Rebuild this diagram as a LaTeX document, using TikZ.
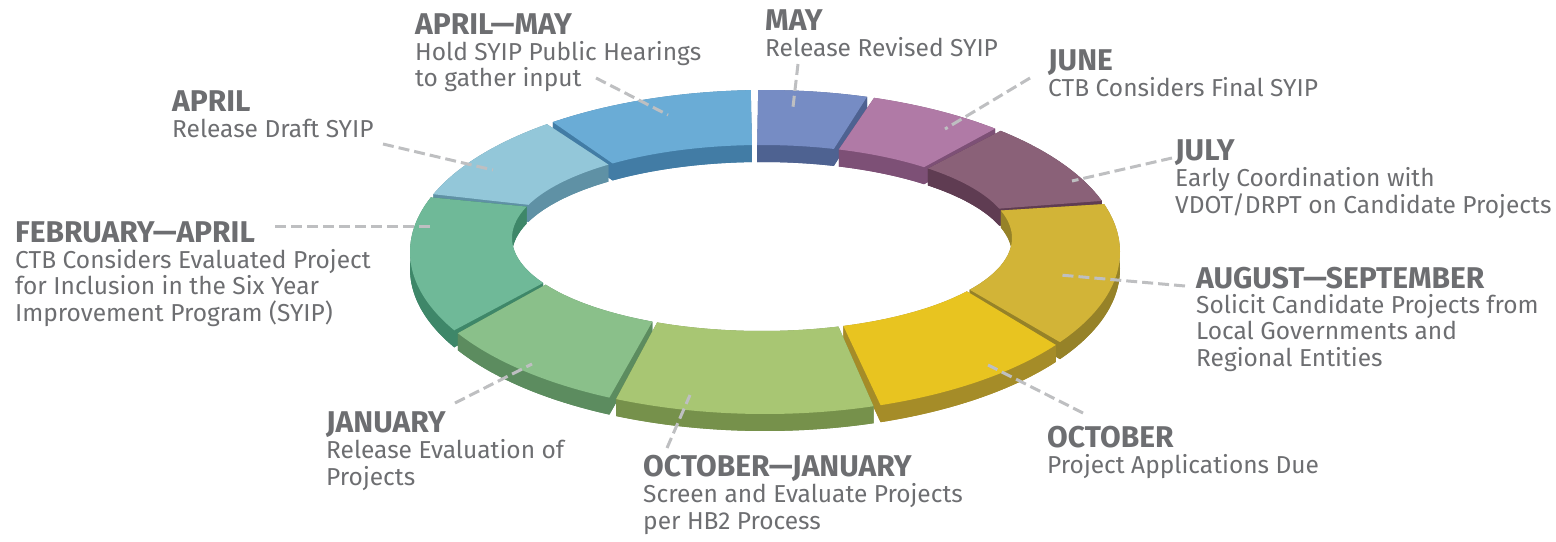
\documentclass[tikz,border=0pt]{standalone}
\usepackage{fontspec}
\setmainfont{Fira Sans}
\usepackage{tikz}
\usetikzlibrary{positioning, calc}

\definecolor{labelgray}{HTML}{6D6E71}
\definecolor{leadergray}{HTML}{BEBFC1}
\definecolor{mayTop}{HTML}{768CC4}    \definecolor{maySide}{HTML}{4E6291}
\definecolor{amTop}{HTML}{6AACD6}     \definecolor{amSide}{HTML}{427CA5}
\definecolor{aprTop}{HTML}{93C7D9}    \definecolor{aprSide}{HTML}{5F91A5}
\definecolor{faTop}{HTML}{6FB998}     \definecolor{faSide}{HTML}{3E8769}
\definecolor{janTop}{HTML}{8AC08A}    \definecolor{janSide}{HTML}{5C8C5F}
\definecolor{ojTop}{HTML}{A8C673}     \definecolor{ojSide}{HTML}{76914B}
\definecolor{octTop}{HTML}{E8C420}    \definecolor{octSide}{HTML}{A58C28}
\definecolor{asTop}{HTML}{D2B437}     \definecolor{asSide}{HTML}{968228}
\definecolor{julTop}{HTML}{8A6178}    \definecolor{julSide}{HTML}{5F3C52}
\definecolor{junTop}{HTML}{B07AA6}    \definecolor{junSide}{HTML}{7D5076}

% one piece of the ring: start angle, end angle, top colour, side colour
\newcommand{\RingSeg}[4]{%
  \pgfmathsetmacro\sa{#1+0.6}\pgfmathsetmacro\sb{#2-0.6}%
  \begin{scope}[yshift=-17pt]
    \fill[#4] plot[domain=\sa:\sb] ({ox(\x)},{oy(\x)}) -- plot[domain=\sb:\sa] ({ix(\x)},{iy(\x)}) -- cycle;
  \end{scope}
  \fill[#4] plot[domain=\sa:\sb] ({ox(\x)},{oy(\x)}) -- plot[domain=\sb:\sa] ({ox(\x)},{oy(\x)+17}) -- cycle;
  \fill[#4] plot[domain=\sa:\sb] ({ix(\x)},{iy(\x)}) -- plot[domain=\sb:\sa] ({ix(\x)},{iy(\x)+17}) -- cycle;
  \fill[#4] ({ox(\sa)},{oy(\sa)}) -- ({ix(\sa)},{iy(\sa)}) -- ({ix(\sa)},{iy(\sa)+17}) -- ({ox(\sa)},{oy(\sa)+17}) -- cycle;
  \fill[#4] ({ox(\sb)},{oy(\sb)}) -- ({ix(\sb)},{iy(\sb)}) -- ({ix(\sb)},{iy(\sb)+17}) -- ({ox(\sb)},{oy(\sb)+17}) -- cycle;
  \fill[#3] plot[domain=\sa:\sb] ({ox(\x)},{oy(\x)}) -- plot[domain=\sb:\sa] ({ix(\x)},{iy(\x)}) -- cycle;
}

\tikzset{
    heading/.style={anchor=base west, inner sep=0pt, text=labelgray,
      font=\fontsize{30}{32}\selectfont\bfseries},
    body/.style={anchor=base west, inner sep=0pt, text=labelgray, align=left,
      font=\fontsize{24.5}{26.5}\selectfont},
    leader/.style={draw=leadergray, line width=3pt, dash pattern=on 11pt off 5pt},
}

\begin{document}
\begin{tikzpicture}[x=1pt, y=-1pt, samples=40,
    declare function={ox(\t)=765+355*cos(\t); oy(\t)=252-162*sin(\t);
                      ix(\t)=762+250*cos(\t); iy(\t)=238-93*sin(\t);}]
    \useasboundingbox (0,0) rectangle (1556,541);

    % ring, back pieces first
    \RingSeg{72.7}{91.7}{mayTop}{maySide}
    \RingSeg{91.7}{127.3}{amTop}{amSide}
    \RingSeg{49}{72.7}{junTop}{junSide}
    \RingSeg{127.3}{159.7}{aprTop}{aprSide}
    \RingSeg{17.8}{49}{julTop}{julSide}
    \RingSeg{159.7}{209.5}{faTop}{faSide}
    \RingSeg{325.6}{377.8}{asTop}{asSide}
    \RingSeg{209.5}{244.6}{janTop}{janSide}
    \RingSeg{288.4}{325.6}{octTop}{octSide}
    \RingSeg{244.6}{288.4}{ojTop}{ojSide}

    % labels; a body node sits on the baseline of its last line
    \node[heading] (hAprMay) at (415,34) {APRIL---MAY};
    \node[body] (tAprMay) at ([yshift=-52.5pt]hAprMay.base west) {Hold SYIP Public Hearings\\to gather input};

    \node[heading] (hMay) at (765,30) {MAY};
    \node[body] (tMay) at ([yshift=-26pt]hMay.base west) {Release Revised SYIP};

    \node[heading] (hJun) at (1048,70) {JUNE};
    \node[body] (tJun) at ([yshift=-26pt]hJun.base west) {CTB Considers Final SYIP};

    \node[heading] (hApr) at (172,111) {APRIL};
    \node[body] (tApr) at ([yshift=-26pt]hApr.base west) {Release Draft SYIP};

    \node[heading] (hJul) at (1175,160) {JULY};
    \node[body] (tJul) at ([yshift=-53pt]hJul.base west) {Early Coordination with\\VDOT/DRPT on Candidate Projects};

    \node[heading] (hFebApr) at (15,242) {FEBRUARY---APRIL};
    \node[body] (tFebApr) at ([yshift=-79pt]hFebApr.base west) {CTB Considers Evaluated Project\\for Inclusion in the Six Year\\Improvement Program (SYIP)};

    \node[heading] (hAugSep) at (1196,288) {AUGUST---SEPTEMBER};
    \node[body] (tAugSep) at ([yshift=-78pt]hAugSep.base west) {Solicit Candidate Projects from\\Local Governments and\\Regional Entities};

    \node[heading] (hJan) at (326,432) {JANUARY};
    \node[body] (tJan) at ([yshift=-53pt]hJan.base west) {Release Evaluation of\\Projects};

    \node[heading] (hOct) at (1047,447) {OCTOBER};
    \node[body] (tOct) at ([yshift=-26pt]hOct.base west) {Project Applications Due};

    \node[heading] (hOctJan) at (643,476) {OCTOBER---JANUARY};
    \node[body] (tOctJan) at ([yshift=-53pt]hOctJan.base west) {Screen and Evaluate Projects\\per HB2 Process};

    % leader lines
    \coordinate (lAprMay) at (596,78);   \coordinate (sAprMay) at (668,115);
    \coordinate (lMay) at (798,64);      \coordinate (sMay) at (793,107);
    \coordinate (lJun) at (1030,78);     \coordinate (sJun) at (945,129);
    \coordinate (lApr) at (383,144);     \coordinate (sApr) at (493,170);
    \coordinate (lJul) at (1172,158);    \coordinate (sJul) at (1072,181);
    \coordinate (lFebApr) at (275,226);  \coordinate (sFebApr) at (433,226);
    \coordinate (lAugSep) at (1185,286); \coordinate (sAugSep) at (1060,275);
    \coordinate (lJan) at (455,403);     \coordinate (sJan) at (532,364);
    \coordinate (lOct) at (1083,413);    \coordinate (sOct) at (988,365);
    \coordinate (lOctJan) at (667,448);  \coordinate (sOctJan) at (690,395);

    \foreach \m in {AprMay, May, Jun, Apr, Jul, FebApr, AugSep, Jan, Oct, OctJan}
      \draw[leader] (l\m) -- (s\m);
\end{tikzpicture}
\end{document}
